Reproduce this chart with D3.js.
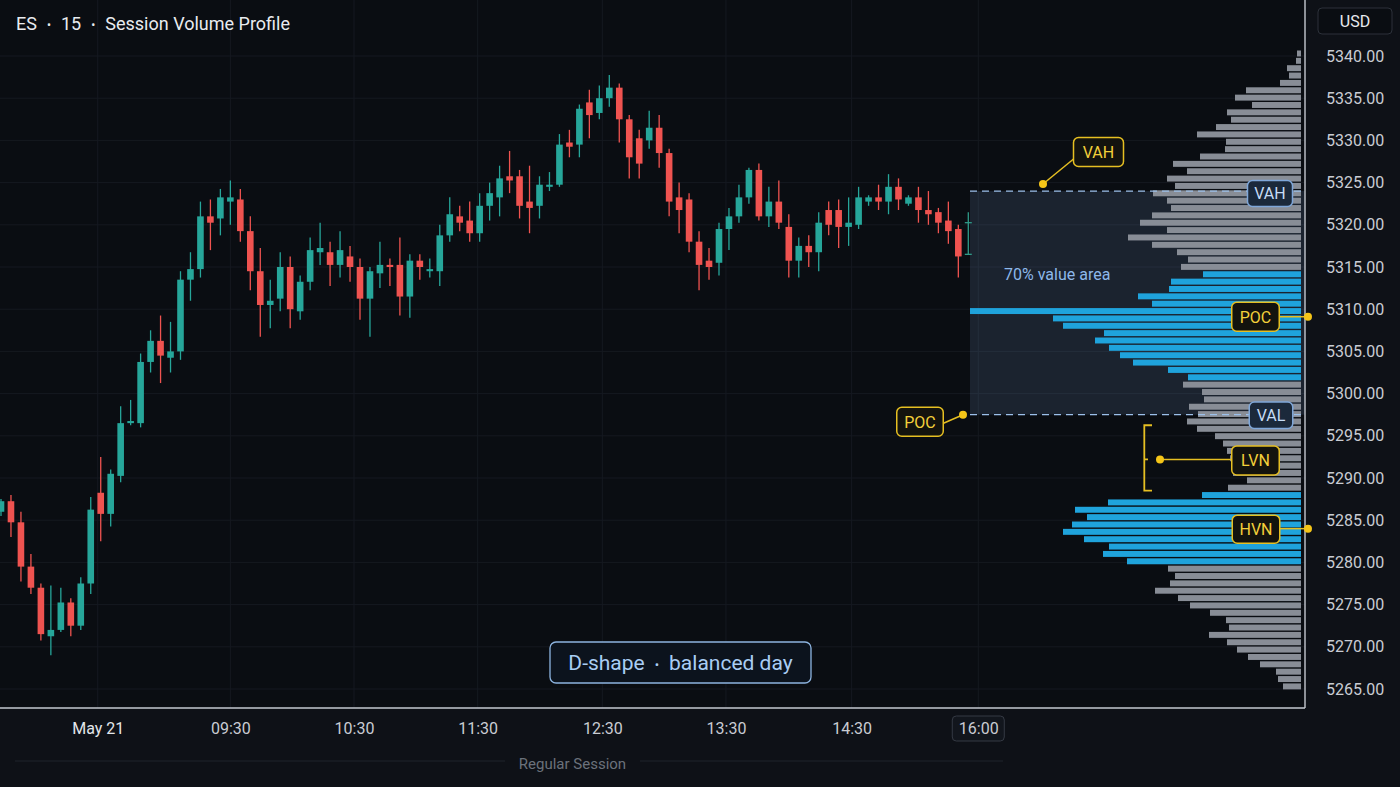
<!DOCTYPE html>
<html><head><meta charset="utf-8">
<script src="https://cdn.jsdelivr.net/npm/d3@7"></script>
<style>html,body{margin:0;padding:0;background:#0e1117;}svg{display:block;font-family:Roboto,"Noto Sans",sans-serif;}</style>
</head><body>
<svg id="c" width="1400" height="787"></svg>
<script>
// ---------- data ----------
const opens  = [5286.0,5287.25,5284.75,5279.5,5277.0,5271.25,5272.0,5275.25,5272.5,5277.5,
  5288.25,5285.75,5290.25,5296.5,5296.5,5303.75,5306.25,5304.25,5305.0,5313.5,
  5314.75,5321.0,5320.75,5322.75,5323.0,5319.25,5314.5,5310.5,5311.25,5315.0,
  5309.75,5313.25,5316.75,5316.75,5315.25,5316.25,5315.0,5311.25,5314.25,5315.25,
  5315.25,5311.5,5315.75,5314.5,5314.5,5318.75,5321.0,5320.5,5319.0,5322.25,
  5323.25,5325.75,5325.75,5322.75,5322.25,5324.5,5324.75,5329.75,5329.5,5334.5,
  5333.25,5335.0,5336.25,5332.5,5330.25,5330.0,5331.5,5328.5,5323.25,5323.0,
  5318.0,5315.75,5315.5,5319.5,5321.0,5323.25,5326.5,5321.0,5322.75,5319.75,
  5315.75,5317.5,5316.75,5321.75,5321.75,5319.75,5320.0,5322.75,5323.25,5322.75,
  5324.5,5322.5,5323.25,5321.75,5321.5,5320.5,5319.5,5316.5];
const highs  = [5287.5,5288.0,5286.0,5281.0,5277.5,5277.25,5277.0,5275.75,5278.25,5287.75,
  5292.5,5291.0,5298.5,5299.25,5304.75,5307.5,5309.25,5308.5,5314.5,5316.75,
  5322.75,5323.0,5324.25,5325.25,5324.25,5321.0,5317.25,5313.5,5316.75,5316.25,
  5314.0,5318.5,5320.25,5318.0,5319.25,5317.5,5316.0,5315.0,5318.0,5316.0,
  5318.5,5316.5,5316.5,5316.0,5320.0,5323.25,5322.25,5322.75,5323.75,5325.0,
  5327.0,5328.75,5326.5,5327.0,5325.75,5326.25,5330.75,5331.25,5334.25,5336.0,
  5336.5,5337.75,5336.75,5333.0,5331.25,5333.5,5333.0,5329.0,5325.0,5323.75,
  5319.25,5317.25,5320.25,5322.0,5324.75,5326.75,5327.25,5324.5,5325.25,5321.25,
  5318.5,5318.75,5321.5,5322.75,5323.0,5323.25,5324.5,5323.5,5324.75,5326.0,
  5325.5,5323.5,5324.5,5324.0,5322.0,5322.75,5320.0,5321.5];
const lows   = [5285.5,5283.0,5277.75,5276.25,5270.75,5269.0,5271.75,5271.25,5272.0,5276.25,
  5282.5,5284.25,5289.5,5296.25,5296.0,5302.5,5301.25,5302.5,5304.0,5311.0,
  5313.75,5317.0,5318.75,5320.0,5318.0,5312.25,5306.75,5307.75,5309.75,5307.75,
  5308.75,5312.25,5315.25,5312.75,5313.75,5313.25,5308.75,5306.75,5312.5,5312.75,
  5309.25,5309.0,5313.5,5313.75,5312.75,5318.0,5319.25,5318.0,5318.0,5320.5,
  5321.0,5323.75,5320.75,5319.0,5320.75,5324.0,5324.5,5328.0,5328.0,5330.25,
  5332.5,5334.0,5329.75,5325.5,5325.5,5329.0,5326.75,5321.0,5319.0,5316.75,
  5312.25,5313.5,5314.0,5317.0,5320.25,5322.5,5320.5,5319.75,5319.5,5313.75,
  5313.75,5315.0,5314.5,5318.75,5317.25,5317.5,5319.5,5322.25,5321.75,5321.25,
  5321.75,5322.25,5320.25,5320.0,5319.0,5317.75,5313.75,5316.5];
const closes = [5287.25,5284.75,5279.5,5277.0,5271.5,5272.0,5275.25,5272.5,5277.5,5286.25,
  5285.75,5290.5,5296.5,5296.75,5303.75,5306.25,5304.5,5305.0,5313.5,5314.75,
  5321.0,5320.25,5323.25,5323.25,5319.25,5314.5,5310.5,5311.0,5315.0,5310.0,
  5313.25,5317.0,5317.25,5315.25,5317.0,5315.0,5311.25,5314.5,5315.25,5315.0,
  5311.5,5315.75,5315.0,5314.75,5318.75,5321.25,5320.25,5319.0,5322.25,5323.75,
  5325.5,5325.25,5322.25,5322.0,5324.75,5324.75,5329.5,5329.25,5333.75,5333.0,
  5335.0,5336.25,5332.5,5328.0,5327.25,5331.5,5328.5,5322.75,5321.75,5318.0,
  5315.25,5315.0,5319.5,5321.0,5323.25,5326.5,5321.0,5322.75,5320.25,5315.75,
  5317.5,5316.75,5320.25,5320.0,5319.75,5320.25,5323.25,5323.25,5322.75,5324.5,
  5323.0,5323.25,5321.75,5321.25,5320.25,5319.25,5316.25,5320.25];

const priceTicks = [5265,5270,5275,5280,5285,5290,5295,5300,5305,5310,5315,5320,5325,5330,5335,5340];
const timeTickPos = [9.7, 23.0, 35.4, 47.8, 60.3, 72.7, 85.3, 98.0];   // in bar-index units
const timeTickLabels = ["May 21","09:30","10:30","11:30","12:30","13:30","14:30","16:00"];

// volume profile rows (top row price, row step), volume per row (hundreds of contracts)
const profileTop = 5340.3, profileStep = 0.872;
const profileVolume = [4,5,14,12,21,55,66,49,74,70,
  85,104,75,76,101,128,114,134,126,148,
  134,130,149,161,134,173,149,124,113,120,
  98,130,132,163,149,331,248,238,197,206,
  192,181,168,133,113,118,99,97,112,103,
  114,104,86,78,74,71,69,68,54,73,
  99,193,226,214,229,238,217,192,198,174,
  133,126,131,146,123,111,91,75,72,92,
  74,64,53,41,25,23,18];
const highlightZones = [[5301.5,5314.5],[5279.6,5288.3]];
const valueAreaHigh = 5324.0, valueAreaLow = 5297.5, pocPrice = 5309.7;
const lvnZone = [5288.5, 5296.25], lvnPrice = 5292.2, hvnPrice = 5284.0;

// ---------- drawing ----------
const svg = d3.select("#c");
const FONT = "Roboto, 'Noto Sans', sans-serif";
const plotR = 1305, plotB = 708, profR = 1301;

svg.append("rect").attr("width",1400).attr("height",787).attr("fill","#0e1117");
svg.append("rect").attr("width",plotR).attr("height",plotB).attr("fill","#0a0d12");

const y = d3.scaleLinear().domain([5265,5340]).range([689,56]);
const x = d3.scaleLinear().domain([0, opens.length-1]).range([1, 968.3]);
const volMax = d3.max(profileVolume);
const xv = d3.scaleLinear().domain([0, volMax]).range([profR, 970]);

// grid
const grid = svg.append("g");
grid.selectAll(".gh").data(priceTicks).join("line").attr("class","gh")
  .attr("x1",0).attr("x2",plotR).attr("y1",d=>y(d)).attr("y2",d=>y(d))
  .attr("stroke","#151920").attr("stroke-width",1);
grid.selectAll(".gv").data(timeTickPos).join("line").attr("class","gv")
  .attr("x1",d=>x(d)).attr("x2",d=>x(d)).attr("y1",0).attr("y2",plotB)
  .attr("stroke","#151920").attr("stroke-width",1);

// value area band
const vaLeft = xv(volMax);
svg.append("rect").attr("x",vaLeft).attr("y",y(valueAreaHigh))
  .attr("width",plotR-vaLeft).attr("height",y(valueAreaLow)-y(valueAreaHigh))
  .attr("fill","#6f93c4").attr("opacity",0.17);

// profile bars
const rowPrice = i => profileTop - i*profileStep;
const rowPx = Math.abs(y(profileTop) - y(profileTop - profileStep));
const inZone = p => highlightZones.some(z => p >= z[0] && p <= z[1]);
svg.append("g").selectAll("rect").data(profileVolume).join("rect")
  .attr("x", d => xv(d)).attr("width", d => profR - xv(d))
  .attr("y", (d,i) => y(rowPrice(i)) - rowPx/2 + 0.7).attr("height", rowPx - 1.4)
  .attr("fill", (d,i) => inZone(rowPrice(i)) ? "#1fa3dc" : "#888d96");

// dashed VAH / VAL lines
[valueAreaHigh, valueAreaLow].forEach(p => {
  svg.append("line").attr("x1",vaLeft).attr("x2",plotR).attr("y1",y(p)).attr("y2",y(p))
    .attr("stroke","#9cc0ea").attr("stroke-width",1.3).attr("stroke-dasharray","7,5");
});

// candles
const bars = d3.range(opens.length).map(i => ({i, o:opens[i], h:highs[i], l:lows[i], c:closes[i]}));
const up = "#26a69a", dn = "#ef5350";
const cg = svg.append("g");
const last = bars.length - 1;
const normal = bars.filter(b => b.i !== last);
cg.selectAll(".wick").data(normal).join("line").attr("class","wick")
  .attr("x1",b=>x(b.i)).attr("x2",b=>x(b.i)).attr("y1",b=>y(b.h)).attr("y2",b=>y(b.l))
  .attr("stroke",b=>b.c>=b.o?up:dn).attr("stroke-width",1.3);
const bw = 6.6;
cg.selectAll(".body").data(normal).join("rect").attr("class","body")
  .attr("x",b=>x(b.i)-bw/2).attr("width",bw)
  .attr("y",b=>y(Math.max(b.o,b.c)))
  .attr("height",b=>Math.max(1.2, Math.abs(y(b.o)-y(b.c))))
  .attr("fill",b=>b.c>=b.o?up:dn);
// live (last) bar drawn OHLC style
const lb = bars[last];
const lg = cg.append("g").attr("stroke","#2f9a88").attr("stroke-width",1.3);
lg.append("line").attr("x1",x(lb.i)).attr("x2",x(lb.i)).attr("y1",y(lb.h)).attr("y2",y(lb.l));
[lb.o, lb.c].forEach(p => lg.append("line").attr("x1",x(lb.i)-3.5).attr("x2",x(lb.i)+3.5).attr("y1",y(p)).attr("y2",y(p)));

// value area caption
svg.append("text").attr("x",vaLeft+34).attr("y",y(5315)+13)
  .attr("font-family",FONT).attr("font-size",16).attr("fill","#8db8ea").text("70% value area");

// borders
svg.append("line").attr("x1",plotR).attr("x2",plotR).attr("y1",0).attr("y2",plotB).attr("stroke","#c5c9d0").attr("stroke-width",1.4);
svg.append("line").attr("x1",0).attr("x2",plotR).attr("y1",plotB).attr("y2",plotB).attr("stroke","#c5c9d0").attr("stroke-width",1.4);

// price axis
const ay = d3.axisRight(y).tickValues(priceTicks).tickFormat(d3.format(".2f")).tickSize(0).tickPadding(21);
svg.append("g").attr("transform",`translate(${plotR},0)`).call(ay)
  .attr("font-size",16).attr("font-family",FONT)
  .call(g=>g.select(".domain").remove())
  .call(g=>g.selectAll("text").attr("fill","#c9ccd3"));

// time axis
const lastTick = timeTickPos[timeTickPos.length-1];
svg.append("rect").attr("x",x(lastTick)-26).attr("y",716).attr("width",52).attr("height",25).attr("rx",4)
  .attr("fill","#12161d").attr("stroke","#353a44").attr("stroke-width",1);
const ax = d3.axisBottom(x).tickValues(timeTickPos).tickFormat((d,i)=>timeTickLabels[i]).tickSize(0).tickPadding(15);
svg.append("g").attr("transform",`translate(0,${plotB})`).call(ax)
  .attr("font-size",16).attr("font-family",FONT)
  .call(g=>g.select(".domain").remove())
  .call(g=>g.selectAll("text").attr("fill",(d,i)=> i===0 ? "#e3e6ea" : "#c9ccd3"));

// session caption
svg.append("line").attr("x1",15).attr("x2",505).attr("y1",761).attr("y2",761).attr("stroke","#1f242c");
svg.append("line").attr("x1",640).attr("x2",1003).attr("y1",761).attr("y2",761).attr("stroke","#1f242c");
svg.append("text").attr("x",572.5).attr("y",769).attr("text-anchor","middle").attr("font-family",FONT)
  .attr("font-size",15).attr("fill","#6b717b").text("Regular Session");

// title
const t = svg.append("text").attr("x",16).attr("y",30).attr("font-family",FONT).attr("font-size",18).attr("fill","#e9ebef");
t.append("tspan").text("ES");
t.append("tspan").attr("dx",10).attr("font-size",12).attr("dy",-1).text("•");
t.append("tspan").attr("dx",10).attr("dy",1).text("15");
t.append("tspan").attr("dx",10).attr("font-size",12).attr("dy",-1).text("•");
t.append("tspan").attr("dx",10).attr("dy",1).text("Session Volume Profile");

// currency box
svg.append("rect").attr("x",1318).attr("y",8).attr("width",74).attr("height",26).attr("rx",4)
  .attr("fill","#0a0d12").attr("stroke","#2c313a");
svg.append("text").attr("x",1355).attr("y",27).attr("text-anchor","middle").attr("font-family",FONT)
  .attr("font-size",16).attr("fill","#e8eaee").text("USD");

// shape caption
const dsx = 680.5, dsy = 662.5;
svg.append("rect").attr("x",dsx-130.5).attr("y",dsy-20.5).attr("width",261).attr("height",41).attr("rx",6)
  .attr("fill","#0c131d").attr("stroke","#8db4e0").attr("stroke-width",1.3);
const ds = svg.append("text").attr("x",dsx).attr("y",dsy+7.5).attr("text-anchor","middle").attr("font-family",FONT)
  .attr("font-size",21).attr("fill","#a9cdf4");
ds.append("tspan").text("D-shape");
ds.append("tspan").attr("dx",10).attr("font-size",13).attr("dy",-1).text("•");
ds.append("tspan").attr("dx",10).attr("dy",1).text("balanced day");

// annotations
const YEL = "#e6bf22", YTXT = "#f3d03a";
const ann = svg.append("g").attr("font-family",FONT);
function tag(cx, cy, w, h, label, yellow){
  ann.append("rect").attr("x",cx-w/2).attr("y",cy-h/2).attr("width",w).attr("height",h).attr("rx",5)
    .attr("fill", yellow ? "#13130e" : "#1b293b").attr("stroke", yellow ? YEL : "#7fa7d9").attr("stroke-width",1.5);
  ann.append("text").attr("x",cx).attr("y",cy+5.8).attr("text-anchor","middle").attr("font-size",16)
    .attr("fill", yellow ? YTXT : "#c6dcf6").text(label);
}
function lead(x1,y1,x2,y2){ ann.append("line").attr("x1",x1).attr("y1",y1).attr("x2",x2).attr("y2",y2).attr("stroke",YEL).attr("stroke-width",1.5); }
function dot(cx,cy){ ann.append("circle").attr("cx",cx).attr("cy",cy).attr("r",4).attr("fill","#f5c518"); }

// blue VAH / VAL tags on the profile
tag(1270, y(valueAreaHigh)+2.5, 45, 26, "VAH", false);
tag(1271, y(valueAreaLow)+0.5, 43.5, 26.5, "VAL", false);

// VAH yellow callout
const vahY = y(valueAreaHigh);
lead(vaLeft+73, vahY-7, 1076, vahY-34);
dot(vaLeft+73, vahY-7);
tag(1098.5, vahY-39, 50, 29, "VAH", true);

// POC callout (left)
const valY = y(valueAreaLow);
lead(vaLeft-7, valY, 940, valY+10);
dot(vaLeft-7, valY);
tag(920, valY+7, 46.5, 29, "POC", true);

// POC callout (right)
const pocY = y(pocPrice)+5;
lead(1279, pocY, 1308, pocY);
dot(1308, pocY);
tag(1255.5, pocY, 47.5, 29, "POC", true);

// LVN bracket + callout
const lt = y(lvnZone[1]), lbm = y(lvnZone[0]), lvY = y(lvnPrice);
ann.append("path").attr("d",`M1152,${lt}H1144.3V${lbm}H1152M1144.3,${lvY}H1148`)
  .attr("fill","none").attr("stroke",YEL).attr("stroke-width",1.8);
lead(1160, lvY, 1232, lvY);
dot(1160, lvY);
tag(1255.5, lvY+1, 47.5, 29, "LVN", true);

// HVN callout
const hvY = y(hvnPrice);
lead(1280, hvY, 1308, hvY);
dot(1308, hvY);
tag(1256, hvY+0.5, 47.5, 28, "HVN", true);
</script>
</body></html>
